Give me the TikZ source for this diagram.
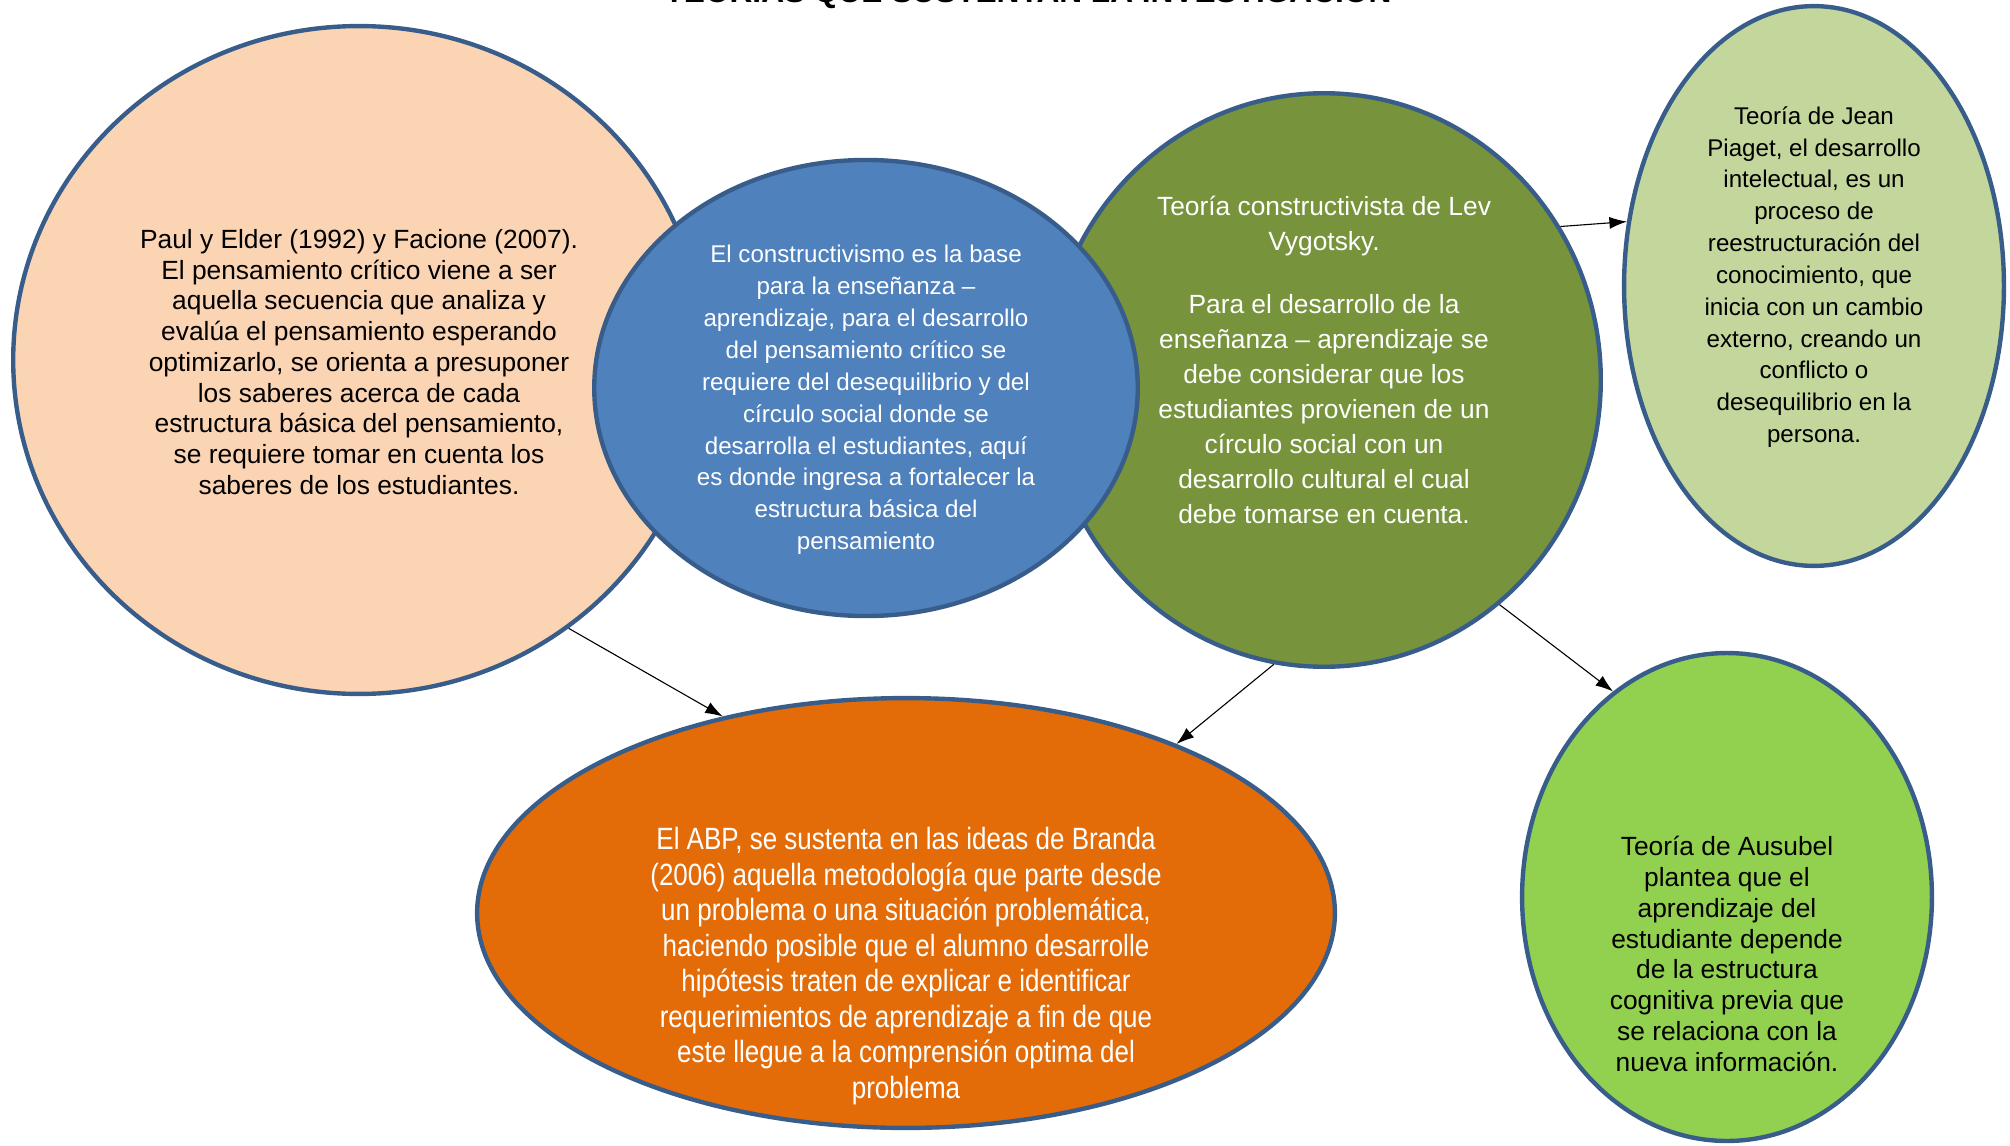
\documentclass[tikz,border=0pt]{standalone}
\usepackage{fontspec}
\setmainfont{Liberation Sans}
\newfontfamily\narrowsans{Liberation Sans}[FakeStretch=0.845]
\usetikzlibrary{arrows.meta,shapes.geometric}
\definecolor{Peach}{HTML}{FBD4B4}
\definecolor{MidBlue}{HTML}{4F81BD}
\definecolor{Olive}{HTML}{77933C}
\definecolor{PaleGreen}{HTML}{C3D69B}
\definecolor{LimeGreen}{HTML}{92D050}
\definecolor{DeepOrange}{HTML}{E36C09}
\definecolor{Outline}{HTML}{385D8A}
\tikzset{
  bubble/.style={ellipse, draw=Outline, line width=2pt, inner sep=0pt},
  bubtxt/.style={align=center, inner sep=0pt},
  linkarr/.style={-{Latex[length=8pt,width=5.5pt]}, line width=0.5pt, black}
}

\begin{document}
\begin{tikzpicture}[x=0.016cm, y=-0.016cm]
\useasboundingbox (0,0) rectangle (2010,1145);
\clip (0,0) rectangle (2010,1145);

\node[font=\fontsize{14.4}{16}\selectfont\bfseries, anchor=base] (titulo) at (1028,3) {TEORÍAS QUE SUSTENTAN LA INVESTIGACIÓN};

% ellipses
\node[bubble, fill=Peach, minimum width=11.07cm, minimum height=10.69cm] (paul) at (359,360) {};
\node[bubble, fill=Olive, minimum width=8.86cm, minimum height=9.18cm] (vygotsky) at (1324,380) {};
\node[bubble, fill=MidBlue, minimum width=8.70cm, minimum height=7.30cm] (constr) at (866,388) {};
\node[bubble, fill=PaleGreen, minimum width=6.08cm, minimum height=8.96cm] (piaget) at (1814,286) {};
\node[bubble, fill=LimeGreen, minimum width=6.56cm, minimum height=7.81cm] (ausubel) at (1727,897) {};
\node[bubble, fill=DeepOrange, minimum width=13.73cm, minimum height=6.88cm] (abp) at (906,913) {};

% texts
\node[bubtxt, font=\fontsize{12}{14}\selectfont] (paultxt) at (359,362) {Paul y Elder (1992) y Facione (2007).\\El pensamiento crítico viene a ser\\aquella secuencia que analiza y\\evalúa el pensamiento esperando\\optimizarlo, se orienta a presuponer\\los saberes acerca de cada\\estructura básica del pensamiento,\\se requiere tomar en cuenta los\\saberes de los estudiantes.};
\node[bubtxt, text=white, font=\fontsize{11}{14.5}\selectfont] (constrtxt) at (866,400) {El constructivismo es la base\\para la enseñanza –\\aprendizaje, para el desarrollo\\del pensamiento crítico se\\requiere del desequilibrio y del\\círculo social donde se\\desarrolla el estudiantes, aquí\\es donde ingresa a fortalecer la\\estructura básica del\\pensamiento};
\node[bubtxt, text=white, font=\fontsize{12}{16}\selectfont] (vygotskytxt) at (1324,360) {Teoría constructivista de Lev\\Vygotsky.\\[12.6pt]Para el desarrollo de la\\enseñanza – aprendizaje se\\debe considerar que los\\estudiantes provienen de un\\círculo social con un\\desarrollo cultural el cual\\debe tomarse en cuenta.};
\node[bubtxt, font=\fontsize{11}{14.5}\selectfont] (piagettxt) at (1814,277) {Teoría de Jean\\Piaget, el desarrollo\\intelectual, es un\\proceso de\\reestructuración del\\conocimiento, que\\inicia con un cambio\\externo, creando un\\conflicto o\\desequilibrio en la\\persona.};
\node[bubtxt, font=\fontsize{12}{14}\selectfont] (ausubeltxt) at (1727,954) {Teoría de Ausubel\\plantea que el\\aprendizaje del\\estudiante depende\\de la estructura\\cognitiva previa que\\se relaciona con la\\nueva información.};
\node[bubtxt, text=white, font=\narrowsans\fontsize{14}{16.2}\selectfont] (abptxt) at (906,966) {El ABP, se sustenta en las ideas de Branda\\(2006) aquella metodología que parte desde\\un problema o una situación problemática,\\haciendo posible que el alumno desarrolle\\hipótesis traten de explicar e identificar\\requerimientos de aprendizaje a fin de que\\este llegue a la comprensión optima del\\problema};

% connectors
\draw[linkarr] (paul.-52) -- (abp.133);
\draw[linkarr] (vygotsky.260) -- (abp.32);
\draw[linkarr] (vygotsky.-52) -- (ausubel.119);
\draw[linkarr] (vygotsky.33) -- (piaget.161);
\end{tikzpicture}
\end{document}
